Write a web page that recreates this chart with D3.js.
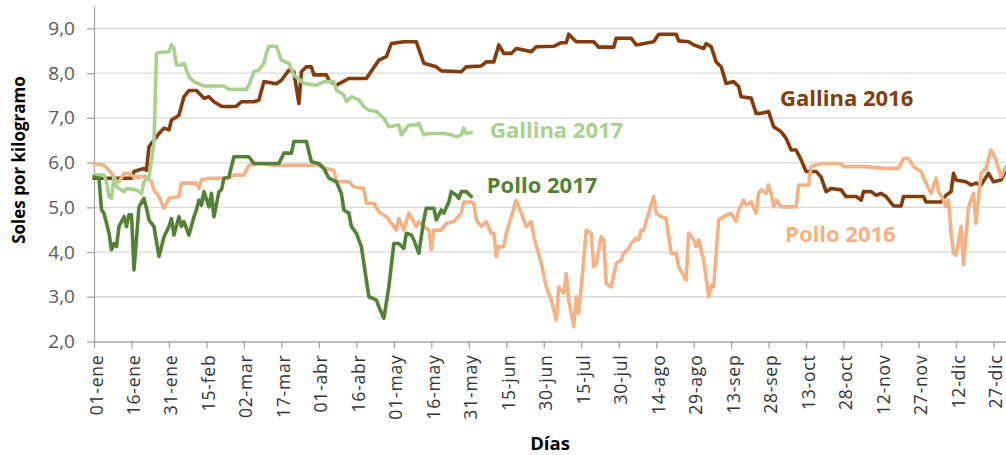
<!DOCTYPE html>
<html>
<head>
<meta charset="utf-8">
<script src="https://cdn.jsdelivr.net/npm/d3@7"></script>
<style>
  body { margin: 0; background: #fff; }
  svg { display: block; font-family: "Open Sans", sans-serif; }
</style>
</head>
<body>
<div id="chart"></div>
<script>
// etiquetas del eje x (cada 15 dias)
var tickLabels = ["01-ene", "16-ene", "31-ene", "15-feb", "02-mar", "17-mar", "01-abr", "16-abr",
  "01-may", "16-may", "31-may", "15-jun", "30-jun", "15-jul", "30-jul", "14-ago", "29-ago",
  "13-sep", "28-sep", "13-oct", "28-oct", "12-nov", "27-nov", "12-dic", "27-dic"];

var yTicks = [2, 3, 4, 5, 6, 7, 8, 9];

// [dia del año, soles por kg]
var gallina2016 = [[0,5.65],[15,5.65],[16,5.80],[20,5.87],[21,5.83],[22,6.35],[24,6.50],[26,6.65],[28,6.77],[30,6.73],
  [31,6.95],[33,7.02],[34,7.06],[36,7.47],[38,7.61],[41,7.61],[44,7.44],[46,7.47],[48,7.36],[51,7.26],
  [54,7.25],[57,7.26],[59,7.36],[64,7.36],[66,7.40],[68,7.81],[73,7.76],[75,7.84],[78,8.07],[80,8.03],
  [82,7.32],[83,8.03],[85,8.14],[87,8.14],[88,7.96],[93,7.96],[94,7.84],[97,7.73],[102,7.88],[109,7.88],
  [114,8.29],[117,8.37],[119,8.66],[124,8.70],[129,8.70],[132,8.22],[137,8.14],[139,8.05],[147,8.03],[149,8.14],
  [155,8.16],[157,8.25],[160,8.25],[162,8.63],[164,8.44],[167,8.44],[169,8.55],[175,8.48],[177,8.59],[184,8.60],
  [187,8.68],[189,8.68],[190,8.87],[193,8.70],[196,8.70],[200,8.70],[202,8.58],[208,8.58],[209,8.78],[215,8.78],
  [217,8.63],[224,8.70],[226,8.87],[233,8.87],[234,8.72],[238,8.70],[240,8.63],[244,8.55],[245,8.66],[247,8.59],
  [249,8.25],[251,8.14],[253,7.77],[256,7.81],[258,7.70],[259,7.47],[263,7.44],[265,7.10],[267,7.10],[270,7.14],
  [272,6.80],[275,6.69],[277,6.54],[279,6.28],[281,6.28],[283,6.06],[285,5.80],[289,5.80],[291,5.68],[293,5.35],
  [295,5.42],[299,5.39],[301,5.24],[305,5.24],[307,5.16],[308,5.35],[311,5.35],[313,5.27],[315,5.31],[317,5.24],
  [320,5.03],[323,5.03],[324,5.24],[332,5.24],[333,5.12],[339,5.12],[341,5.27],[343,5.35],[344,5.76],[345,5.61],
  [349,5.57],[351,5.50],[353,5.54],[355,5.50],[358,5.76],[360,5.57],[363,5.61],[365,5.83]];

var pollo2016 = [[0,5.98],[4,5.94],[6,5.83],[8,5.68],[9,5.57],[10,5.57],[12,5.76],[14,5.76],[16,5.68],[21,5.68],
  [23,5.57],[24,5.39],[26,5.24],[28,4.98],[30,5.20],[34,5.24],[35,5.54],[41,5.54],[42,5.42],[43,5.61],
  [46,5.65],[54,5.65],[56,5.72],[60,5.72],[62,5.94],[66,5.98],[72,5.94],[90,5.94],[92,5.87],[96,5.83],
  [97,5.57],[102,5.57],[104,5.46],[108,5.42],[109,5.09],[112,5.09],[114,4.90],[117,4.79],[120,4.57],[121,4.49],
  [122,4.75],[124,4.49],[126,4.87],[129,4.57],[130,4.68],[132,4.57],[134,4.49],[135,4.05],[136,4.49],[139,4.49],
  [141,4.64],[144,4.68],[147,4.87],[148,5.12],[151,5.12],[152,5.09],[153,4.72],[155,4.57],[157,4.68],[159,4.42],
  [160,4.42],[161,3.90],[162,4.12],[164,4.12],[165,4.42],[167,4.79],[169,5.16],[171,4.87],[173,4.57],[175,4.68],
  [176,4.34],[179,3.75],[181,3.22],[183,2.93],[185,2.48],[186,3.22],[188,3.08],[189,3.52],[190,2.93],[192,2.33],
  [193,3.00],[194,2.63],[195,3.22],[197,4.49],[199,4.42],[200,3.67],[201,3.75],[203,4.34],[204,4.27],[205,3.30],
  [207,3.22],[209,3.75],[211,3.82],[212,3.97],[214,4.08],[215,4.19],[217,4.31],[218,4.27],[219,4.49],[220,4.49],
  [222,4.87],[224,5.24],[225,4.87],[227,4.79],[229,4.75],[231,3.97],[233,3.97],[234,3.67],[237,3.37],[238,4.42],
  [240,4.27],[241,4.12],[242,4.27],[244,3.82],[246,3.00],[247,3.26],[248,3.22],[250,4.72],[252,4.79],[255,4.87],
  [257,4.68],[258,4.94],[260,5.16],[261,5.05],[263,5.12],[265,4.87],[266,5.31],[267,5.39],[269,5.31],[270,5.50],
  [271,5.31],[272,5.01],[273,5.16],[275,5.01],[281,5.01],[282,5.50],[286,5.50],[287,5.91],[291,5.98],[299,5.98],
  [300,5.91],[309,5.91],[316,5.87],[322,5.87],[324,6.09],[326,6.09],[328,5.91],[329,5.87],[331,5.80],[333,5.54],
  [335,5.31],[337,5.65],[338,5.35],[340,5.16],[341,5.01],[342,5.16],[343,4.42],[344,3.97],[345,3.93],[347,4.57],
  [348,3.71],[350,5.01],[352,5.31],[353,4.64],[355,5.76],[357,5.87],[359,6.28],[361,6.06],[363,5.68],[365,5.91]];

var gallina2017 = [[0,5.72],[4,5.72],[5,5.57],[6,5.24],[7,5.20],[8,5.68],[9,5.46],[12,5.35],[13,5.42],[17,5.39],
  [19,5.31],[20,5.57],[22,5.68],[24,6.43],[25,8.44],[26,8.46],[30,8.48],[31,8.63],[32,8.55],[33,8.18],
  [35,8.18],[36,8.22],[38,7.92],[40,7.81],[44,7.71],[52,7.71],[54,7.64],[61,7.64],[62,7.73],[64,8.03],
  [66,8.07],[68,8.22],[69,8.44],[70,8.60],[73,8.60],[75,8.29],[78,8.22],[80,7.96],[84,7.77],[89,7.73],
  [92,7.81],[96,7.81],[97,7.62],[100,7.51],[101,7.36],[103,7.47],[106,7.40],[108,7.25],[110,7.17],[113,7.14],
  [116,6.99],[118,6.80],[122,6.84],[123,6.62],[125,6.77],[126,6.84],[129,6.84],[130,6.88],[132,6.62],[134,6.65],
  [140,6.65],[143,6.62],[145,6.58],[147,6.62],[148,6.77],[149,6.65],[151,6.67]];

var pollo2017 = [[0,5.68],[2,5.65],[3,4.94],[4,4.87],[6,4.42],[7,4.05],[8,4.19],[9,4.12],[10,4.57],[12,4.79],
  [13,4.57],[14,4.83],[15,4.83],[16,3.60],[18,5.01],[20,5.20],[21,4.98],[22,4.72],[24,4.57],[26,3.90],
  [28,4.34],[30,4.57],[31,4.75],[32,4.38],[34,4.79],[35,4.57],[36,4.68],[38,4.38],[40,4.79],[41,4.94],
  [42,5.16],[43,5.05],[44,5.35],[46,5.01],[47,5.31],[48,4.79],[50,5.35],[51,5.39],[52,5.65],[54,5.68],
  [56,6.13],[62,6.13],[64,5.98],[74,5.98],[76,6.21],[79,6.21],[80,6.47],[85,6.47],[87,6.02],[90,5.98],
  [92,5.87],[94,5.65],[97,5.57],[99,5.31],[100,4.94],[102,4.87],[103,4.57],[105,4.42],[107,4.12],[108,3.75],
  [110,3.00],[113,2.93],[114,2.78],[116,2.52],[118,3.22],[120,4.19],[122,4.19],[124,4.08],[125,4.42],[127,4.38],
  [128,4.27],[130,3.97],[132,4.72],[133,4.98],[136,4.98],[137,4.72],[139,4.94],[140,4.87],[142,5.12],[143,5.35],
  [145,5.27],[146,5.20],[147,5.35],[149,5.35],[151,5.24]];

var series = [
  {name: "Gallina 2016", data: gallina2016, color: "#843c0c", label: [274.6, 7.26]},
  {name: "Pollo 2016", data: pollo2016, color: "#f4b183", label: [276.6, 4.23]},
  {name: "Gallina 2017", data: gallina2017, color: "#a9d18e", label: [158.5, 6.54]},
  {name: "Pollo 2017", data: pollo2017, color: "#548235", label: [157.2, 5.31]}
];

const width = 1006;
const height = 455;

var svg = d3.select("#chart")
  .append("svg")
  .attr("width", width)
  .attr("height", height);

var x = d3.scaleLinear().domain([0, 365]).range([94, 1006]);
var y = d3.scaleLinear().domain([2, 9.5]).range([341.5, 6]);

// fechas "dd-mmm" -> dia del año
var es = d3.timeFormatLocale({
  dateTime: "%x, %X", date: "%d/%m/%Y", time: "%H:%M:%S", periods: ["AM", "PM"],
  days: ["domingo", "lunes", "martes", "miércoles", "jueves", "viernes", "sábado"],
  shortDays: ["dom", "lun", "mar", "mié", "jue", "vie", "sáb"],
  months: ["enero", "febrero", "marzo", "abril", "mayo", "junio", "julio", "agosto", "septiembre", "octubre", "noviembre", "diciembre"],
  shortMonths: ["ene", "feb", "mar", "abr", "may", "jun", "jul", "ago", "sep", "oct", "nov", "dic"]
});
var parseDia = es.parse("%d-%b");
var yearStart = parseDia("01-ene");
var tickDays = tickLabels.map(function (l) {
  return d3.timeDay.count(yearStart, parseDia(l));
});

var fmt = d3.formatLocale({decimal: ",", thousands: ".", grouping: [3], currency: ["S/", ""]}).format(".1f");

// gridlines
svg.append("g").selectAll("line")
  .data(yTicks.filter(function (v) { return v > 2; }))
  .enter().append("line")
  .attr("x1", x(0))
  .attr("x2", x(365))
  .attr("y1", function (d) { return y(d); })
  .attr("y2", function (d) { return y(d); })
  .attr("stroke", "#d9d9d9")
  .attr("stroke-width", 1.3);

// y axis
var yAxis = svg.append("g")
  .attr("transform", "translate(" + x(0) + ",0)")
  .call(d3.axisLeft(y).tickValues(yTicks).tickFormat(fmt).tickSize(7).tickSizeOuter(0).tickPadding(12));
yAxis.selectAll("path, line").attr("stroke", "#a6a6a6").attr("stroke-width", 1.3);
yAxis.selectAll("text")
  .attr("fill", "#595959")
  .style("font-family", "Open Sans")
  .style("font-size", "19px");

// x axis
var xAxis = svg.append("g")
  .attr("transform", "translate(0," + y(2) + ")")
  .call(d3.axisBottom(x).tickValues(tickDays)
    .tickFormat(function (d, i) { return tickLabels[i]; })
    .tickSize(7).tickSizeOuter(0));
xAxis.selectAll("path, line").attr("stroke", "#a6a6a6").attr("stroke-width", 1.3);
xAxis.selectAll("text")
  .attr("transform", "rotate(-90)")
  .attr("text-anchor", "end")
  .attr("x", -13)
  .attr("y", 8)
  .attr("dy", "0")
  .attr("fill", "#333")
  .style("font-family", "Open Sans")
  .style("font-size", "17.5px")
  .style("letter-spacing", "0.8px");

// lines
var line = d3.line()
  .x(function (d) { return x(d[0]); })
  .y(function (d) { return y(d[1]); });

svg.append("g").selectAll("path")
  .data(series)
  .enter().append("path")
  .attr("d", function (d) { return line(d.data); })
  .attr("fill", "none")
  .attr("stroke", function (d) { return d.color; })
  .attr("stroke-width", 3.6)
  .attr("stroke-linejoin", "round")
  .attr("stroke-linecap", "round");

// series labels
svg.append("g").selectAll("text")
  .data(series)
  .enter().append("text")
  .attr("x", function (d) { return x(d.label[0]); })
  .attr("y", function (d) { return y(d.label[1]); })
  .attr("fill", function (d) { return d.color; })
  .style("font-size", "22px")
  .style("font-weight", "bold")
  .text(function (d) { return d.name; });

// axis titles
svg.append("text")
  .attr("transform", "translate(25,160) rotate(-90)")
  .attr("text-anchor", "middle")
  .style("font-size", "17px")
  .style("font-weight", "bold")
  .attr("fill", "#000")
  .text("Soles por kilogramo");

svg.append("text")
  .attr("x", 550)
  .attr("y", 450)
  .attr("text-anchor", "middle")
  .style("font-size", "18.5px")
  .style("font-weight", "bold")
  .attr("fill", "#000")
  .text("Días");
</script>
</body>
</html>
